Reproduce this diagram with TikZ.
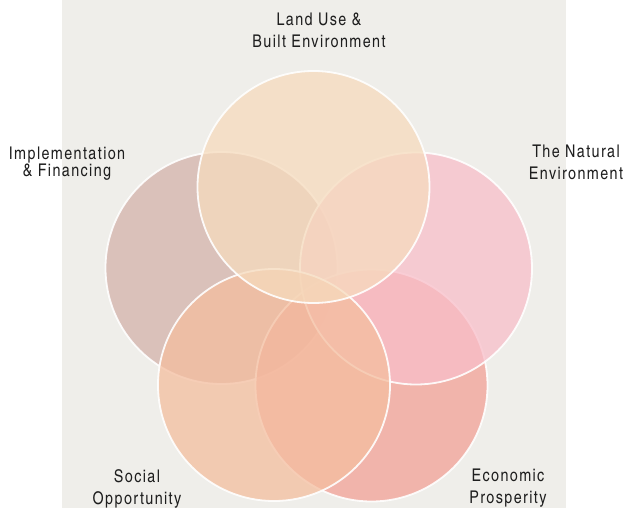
\documentclass[tikz,border=0pt]{standalone}
\usepackage{fontspec}
\setmainfont{texgyreheroscn-regular.otf}[LetterSpace=8]

\definecolor{paper}{HTML}{EFEEEA}
\definecolor{inkgray}{HTML}{1E1E1E}
\definecolor{landcol}{RGB}{246,219,189}
\definecolor{implcol}{RGB}{212,178,171}
\definecolor{naturecol}{RGB}{248,190,201}
\definecolor{socialcol}{RGB}{244,190,159}
\definecolor{econcol}{RGB}{243,161,151}

\tikzset{
  ring/.style={circle,minimum size=232pt,inner sep=0pt,draw=white,
    line width=1.8pt,fill opacity=0.75,draw opacity=0.9},
  tag/.style={align=center,anchor=base,inner sep=0pt,text=inkgray,
    font=\fontsize{17.5}{22}\selectfont}
}

\begin{document}
\begin{tikzpicture}[x=1pt,y=-1pt]
      \useasboundingbox (0,0) rectangle (630,508);
      \fill[paper] (62,0) rectangle (566,508);
      % the five circles, back to front
      \draw
        (221.5,268) node[ring,fill=implcol] (impl){}
        (371.5,385.5) node[ring,fill=econcol] (econ){}
        (416,268.5) node[ring,fill=naturecol] (nature){}
        (274,385) node[ring,fill=socialcol] (social){}
        (313.5,187) node[ring,fill=landcol] (land){};
      % labels (base = last line)
      \begin{scope}[tag]
        \node at (319,48) (landtag) {Land Use \&\\Built Environment};
        \node[font=\fontsize{17.5}{17}\selectfont] at (67,177) (impltag) {Implementation\\\& Financing};
        \node at (576,180) (naturetag) {The Natural\\Environment};
        \node at (137,504) (socialtag) {Social\\Opportunity};
        \node at (508,503) (econtag) {Economic\\Prosperity};
      \end{scope}
    \end{tikzpicture}
\end{document}
